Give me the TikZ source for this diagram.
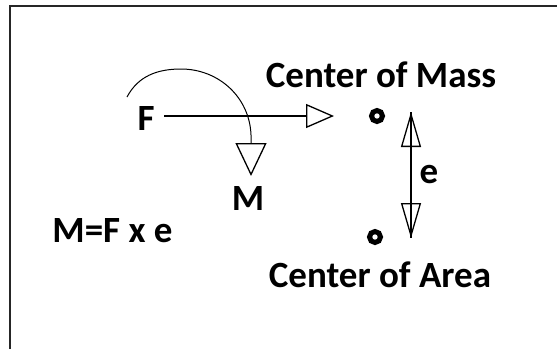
\documentclass[tikz,border=0pt]{standalone}
\usepackage{fontspec}
\setmainfont{Carlito}
\usetikzlibrary{arrows.meta}
\begin{document}
\begin{tikzpicture}[x=1pt,y=-1pt,
  lbl/.style={font=\fontsize{37}{42}\selectfont\bfseries, inner sep=0pt, anchor=base},
  frame/.style={line width=2pt, draw=black!85},
  force/.style={line width=1.3pt, -{Triangle[open, length=28pt, width=24pt, line width=1.3pt]}},
  moment/.style={line width=1pt, -{Triangle[open, length=33pt, width=31pt, line width=1.3pt]}},
  ecc/.style={line width=1.3pt, {Triangle[open, length=35pt, width=20pt, line width=1.3pt]}-{Triangle[open, length=35pt, width=20pt, line width=1.3pt]}},
  centre/.style={circle, draw, line width=5pt, minimum size=11pt, inner sep=0pt}
]
\useasboundingbox (0,0) rectangle (557,349);
\fill[white] (0,0) rectangle (557,349);
% frame (left and top edges visible)
\draw[frame] (10,349) -- (10,6) -- (557,6);

% labels
\node[lbl] (F) at (146,130) {F};
\node[lbl] (M) at (248,210) {M};
\node[lbl] (com) at (381,87) {Center of Mass};
\node[lbl] (coa) at (380,287) {Center of Area};
\node[lbl] (eq) at (112.5,242) {M=F x e};
\node[lbl] (e) at (429,183) {e};

% centre points
\node[centre] (pm) at (377,116) {};
\node[centre] (pa) at (375,237) {};

% force arrow
\coordinate (fstart) at (164,116);
\coordinate (ftip) at (334,116);
\draw[force] (fstart) -- (ftip);

% moment arc
\coordinate (mstart) at (127,97);
\coordinate (mtop) at (181,69);
\coordinate (mbend) at (251,135);
\coordinate (mtip) at (251,176);
\draw[moment] (mstart) to[out=62,in=180] (mtop) to[out=0,in=92] (mbend) -- (mtip);

% eccentricity arrow
\coordinate (etop) at (411,112);
\coordinate (ebot) at (411,238);
\draw[ecc] (etop) -- (ebot);
\draw[line width=1.3pt] (etop) -- (ebot);
\end{tikzpicture}
\end{document}
